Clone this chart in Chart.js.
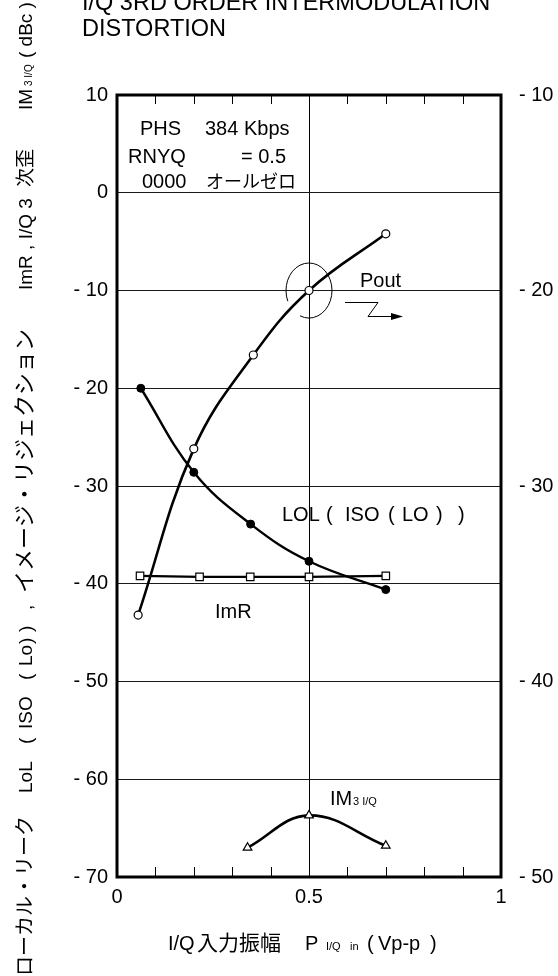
<!DOCTYPE html>
<html><head><meta charset="utf-8">
<script src="https://cdn.jsdelivr.net/npm/chart.js@4.4.1/dist/chart.umd.min.js"></script>
<style>html,body{margin:0;padding:0;background:#fff;}#wrap{width:558px;height:976px;position:relative;}</style>
</head><body><div id="wrap"><canvas id="c" width="558" height="976"></canvas></div>
<script>
// ---- data ----
const titleLines = ['I/Q 3RD ORDER INTERMODULATION', 'DISTORTION'];
const xTickValues = [0, 0.5, 1];
const xMinorTicks = [0.1, 0.2, 0.3, 0.4, 0.6, 0.7, 0.8, 0.9];
const leftRange = [-70, 10];
const rightRange = [-50, -10];

const poutX = [0.055, 0.2, 0.355, 0.5, 0.7];
const poutY = [-36.6, -28.1, -23.3, -20.0, -17.1];   // right axis
const lolX  = [0.062, 0.2, 0.348, 0.5, 0.7];
const lolY  = [-20.0, -28.6, -33.9, -37.7, -40.6];
const imrX  = [0.06, 0.215, 0.347, 0.5, 0.7];
const imrY  = [-39.2, -39.3, -39.3, -39.3, -39.2];
const im3X  = [0.34, 0.5, 0.7];
const im3Y  = [-67.0, -63.7, -66.8];

const LAT = 'Liberation Sans, Arial, sans-serif';
const CJK = '"Noto Sans CJK JP", sans-serif';

const pts = (xs, ys) => xs.map((x, i) => ({x, y: ys[i]}));
const fmt = v => v < 0 ? '- ' + Math.abs(v) : String(v);

function txt(ctx, s, x, y, size, fam) {
  ctx.font = size + 'px ' + fam;
  ctx.fillText(s, x, y);
}

const deco = {
  id: 'deco',
  beforeDatasetsDraw(chart) {
    const {ctx, chartArea: a, scales} = chart;
    ctx.save();
    ctx.strokeStyle = '#000';
    ctx.lineWidth = 3;
    ctx.strokeRect(a.left, a.top, a.right - a.left, a.bottom - a.top);
    ctx.lineWidth = 1;
    ctx.beginPath();
    xMinorTicks.forEach(v => {
      const px = Math.round(scales.x.getPixelForValue(v)) + 0.5;
      ctx.moveTo(px, a.top); ctx.lineTo(px, a.top + 9);
      ctx.moveTo(px, a.bottom); ctx.lineTo(px, a.bottom - 10);
    });
    ctx.stroke();
    const cx = scales.x.getPixelForValue(poutX[3]);
    const cy = scales.y2.getPixelForValue(poutY[3]);
    ctx.beginPath();
    ctx.ellipse(cx, cy, 23, 27.5, 0, 157 * Math.PI / 180, 473 * Math.PI / 180);
    ctx.stroke();
    ctx.beginPath();
    ctx.moveTo(cx + 36, cy + 12); ctx.lineTo(cx + 69, cy + 12);
    ctx.lineTo(cx + 59, cy + 26); ctx.lineTo(cx + 84, cy + 26);
    ctx.stroke();
    ctx.beginPath();
    ctx.moveTo(cx + 94, cy + 26); ctx.lineTo(cx + 82, cy + 22.5); ctx.lineTo(cx + 82, cy + 29.5);
    ctx.closePath(); ctx.fillStyle = '#000'; ctx.fill();
    ctx.restore();
  },
  afterDraw(chart) {
    const {ctx} = chart;
    ctx.save();
    ctx.fillStyle = '#000';
    ctx.textBaseline = 'alphabetic';
    ctx.textAlign = 'left';
    txt(ctx, titleLines[0], 82, 10, 23.5, LAT);
    txt(ctx, titleLines[1], 82, 36, 23.5, LAT);
    txt(ctx, 'PHS', 140, 135, 20, LAT);
    txt(ctx, '384 Kbps', 205, 135, 20, LAT);
    txt(ctx, 'RNYQ', 128, 163, 20, LAT);
    txt(ctx, '= 0.5', 241, 163, 20, LAT);
    txt(ctx, '0000', 142, 188, 20, LAT);
    txt(ctx, 'オールゼロ', 206, 188, 18, CJK);
    txt(ctx, 'Pout', 360, 287, 20, LAT);
    [['LOL',282],['(',326],['ISO',345],['(',388],['LO',402],[')',436],[')',458]]
      .forEach(([s, x]) => txt(ctx, s, x, 521, 20, LAT));
    txt(ctx, 'ImR', 215, 618, 20, LAT);
    txt(ctx, 'IM', 330, 805, 20, LAT);
    txt(ctx, '3 I/Q', 353, 805, 11, LAT);
    txt(ctx, 'I/Q', 168, 950, 20, LAT);
    txt(ctx, '入力振幅', 197, 950, 21, CJK);
    txt(ctx, 'P', 305, 950, 20, LAT);
    txt(ctx, 'I/Q', 326, 950, 11, LAT);
    txt(ctx, 'in', 350, 950, 11, LAT);
    txt(ctx, '(', 367, 950, 20, LAT);
    txt(ctx, 'Vp-p', 378, 950, 20, LAT);
    txt(ctx, ')', 430, 950, 20, LAT);
    ctx.translate(32, 978);
    ctx.rotate(-Math.PI / 2);
    const segs = [
      [2, 'ローカル・リーク', 20, CJK],
      [185, 'LoL', 19, LAT], [234, '(', 19, LAT], [249, 'ISO', 19, LAT], [298, '(', 19, LAT],
      [312, 'Lo', 19, LAT], [334, ')', 19, LAT], [346, ')', 19, LAT], [368, ',', 19, LAT],
      [385, 'イメージ・リジェクション', 22, CJK],
      [688, 'ImR , I/Q 3', 19, LAT],
      [791, '次歪', 19, CJK],
      [868, 'IM', 19, LAT], [892, '3 I/Q', 10, LAT],
      [920, '( dBc )', 19, LAT]
    ];
    segs.forEach(([x, s, sz, f]) => txt(ctx, s, x, 0, sz, f));
    ctx.restore();
  }
};

const tickFont = {family: LAT, size: 20};

new Chart(document.getElementById('c'), {
  type: 'scatter',
  data: {
    datasets: [
      {label: 'Pout', data: pts(poutX, poutY), yAxisID: 'y2', showLine: true,
       borderColor: '#000', borderWidth: 2.6, backgroundColor: '#fff',
       pointStyle: 'circle', pointRadius: 4, pointBorderWidth: 1.2, pointBackgroundColor: '#fff',
       tension: 0.4},
      {label: 'LOL', data: pts(lolX, lolY), yAxisID: 'y', showLine: true,
       borderColor: '#000', borderWidth: 2.4, backgroundColor: '#000',
       pointStyle: 'circle', pointRadius: 4, pointBorderWidth: 1, pointBackgroundColor: '#000',
       tension: 0.4},
      {label: 'ImR', data: pts(imrX, imrY), yAxisID: 'y', showLine: true,
       borderColor: '#000', borderWidth: 2.2, backgroundColor: '#fff',
       pointStyle: 'rect', pointRadius: 5.3, pointBorderWidth: 1.2, pointBackgroundColor: '#fff',
       tension: 0.3},
      {label: 'IM3', data: pts(im3X, im3Y), yAxisID: 'y', showLine: true,
       borderColor: '#000', borderWidth: 2.6, backgroundColor: '#fff',
       pointStyle: 'triangle', pointRadius: 5, pointBorderWidth: 1.2, pointBackgroundColor: '#fff',
       tension: 0.4}
    ]
  },
  options: {
    responsive: false,
    animation: false,
    layout: {padding: {top: 95, left: 0, right: 0, bottom: 0}},
    plugins: {legend: {display: false}, tooltip: {enabled: false}, title: {display: false}},
    scales: {
      x: {
        type: 'linear', min: 0, max: 1,
        afterBuildTicks: s => { s.ticks = xTickValues.map(v => ({value: v})); },
        afterFit: s => { s.height = 99; },
        grid: {drawTicks: false, lineWidth: 1,
               color: c => (c.tick && c.tick.value === 0.5) ? '#000' : 'rgba(0,0,0,0)'},
        border: {display: false},
        ticks: {font: tickFont, color: '#000', padding: 8, maxRotation: 0,
                callback: v => String(v)}
      },
      y: {
        type: 'linear', position: 'left', min: leftRange[0], max: leftRange[1],
        afterFit: s => { s.width = 117; },
        grid: {drawTicks: false, color: '#1a1a1a', lineWidth: 1},
        border: {display: false},
        ticks: {stepSize: 10, font: tickFont, color: '#000', padding: 9, callback: fmt}
      },
      y2: {
        type: 'linear', position: 'right', min: rightRange[0], max: rightRange[1],
        afterFit: s => { s.width = 57; },
        grid: {display: false, drawTicks: false},
        border: {display: false},
        ticks: {stepSize: 10, font: tickFont, color: '#000', padding: 18, callback: fmt}
      }
    }
  },
  plugins: [deco]
});
</script></body></html>
